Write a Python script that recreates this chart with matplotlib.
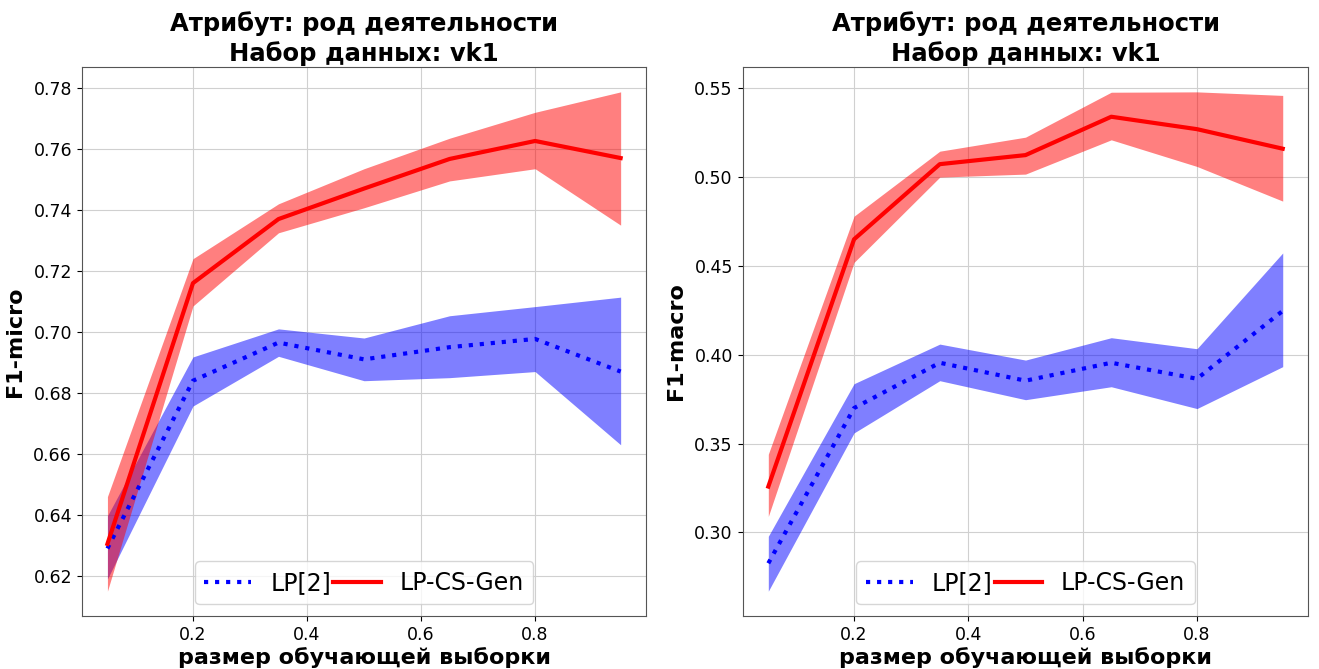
import numpy as np
import matplotlib
matplotlib.use('Agg')
import matplotlib.pyplot as plt

# train sizes
sizes = [0.05, 0.2, 0.35, 0.5, 0.65, 0.8, 0.95]

# F1-micro
micro_lp = [0.629, 0.684, 0.6965, 0.691, 0.695, 0.6977, 0.687]
micro_lp_lo = [0.619, 0.6757, 0.692, 0.684, 0.685, 0.687, 0.663]
micro_lp_hi = [0.6397, 0.6918, 0.701, 0.698, 0.7053, 0.7083, 0.7114]
micro_cs = [0.6305, 0.716, 0.737, 0.747, 0.7567, 0.7626, 0.757]
micro_cs_lo = [0.615, 0.7085, 0.7325, 0.7407, 0.7495, 0.7535, 0.735]
micro_cs_hi = [0.646, 0.724, 0.742, 0.7535, 0.7635, 0.772, 0.7787]

# F1-macro
macro_lp = [0.2826, 0.37, 0.3955, 0.3854, 0.3955, 0.3865, 0.4247]
macro_lp_lo = [0.2669, 0.356, 0.3854, 0.3747, 0.382, 0.3697, 0.3933]
macro_lp_hi = [0.2978, 0.3837, 0.406, 0.397, 0.4096, 0.4034, 0.4573]
macro_cs = [0.3258, 0.465, 0.5073, 0.5124, 0.534, 0.527, 0.516]
macro_cs_lo = [0.309, 0.452, 0.50, 0.5017, 0.521, 0.506, 0.4865]
macro_cs_hi = [0.344, 0.478, 0.5146, 0.5225, 0.5478, 0.548, 0.546]

micro_ticks = [0.62, 0.64, 0.66, 0.68, 0.70, 0.72, 0.74, 0.76, 0.78]
macro_ticks = [0.30, 0.35, 0.40, 0.45, 0.50, 0.55]

title = 'Атрибут: род деятельности\nНабор данных: vk1'


def draw(ax, lp, lp_lo, lp_hi, cs, cs_lo, cs_hi, ylabel, yticks):
    ax.fill_between(sizes, lp_lo, lp_hi, color='blue', alpha=0.5, lw=0)
    ax.fill_between(sizes, cs_lo, cs_hi, color='red', alpha=0.5, lw=0)
    ax.plot(sizes, lp, color='blue', ls=':', lw=3, label='LP[2]')
    ax.plot(sizes, cs, color='red', ls='-', lw=3, label='LP-CS-Gen')
    ax.grid(True, color='#d0d0d0')
    ax.set_axisbelow(True)
    ax.set_yticks(yticks)
    ax.set_title(title, fontsize=17.5, fontweight='bold', pad=4, linespacing=1.28)
    ax.set_xlabel('размер обучающей выборки', fontsize=16, fontweight='bold', labelpad=2)
    ax.set_ylabel(ylabel, fontsize=16, fontweight='bold', labelpad=6)
    ax.tick_params(labelsize=12.5)
    for s in ax.spines.values():
        s.set_color('#555555')
    ax.legend(loc='lower center', ncol=2, fontsize=17, columnspacing=0.1,
              handletextpad=0.8)


fig = plt.figure(figsize=(13.19, 6.69), dpi=100)
ax1 = fig.add_axes([0.062, 0.079, 0.428, 0.821])
ax2 = fig.add_axes([0.563, 0.079, 0.429, 0.821])
draw(ax1, micro_lp, micro_lp_lo, micro_lp_hi, micro_cs, micro_cs_lo, micro_cs_hi,
     'F1-micro', micro_ticks)
draw(ax2, macro_lp, macro_lp_lo, macro_lp_hi, macro_cs, macro_cs_lo, macro_cs_hi,
     'F1-macro', macro_ticks)
fig.savefig('out.png', dpi=100)
